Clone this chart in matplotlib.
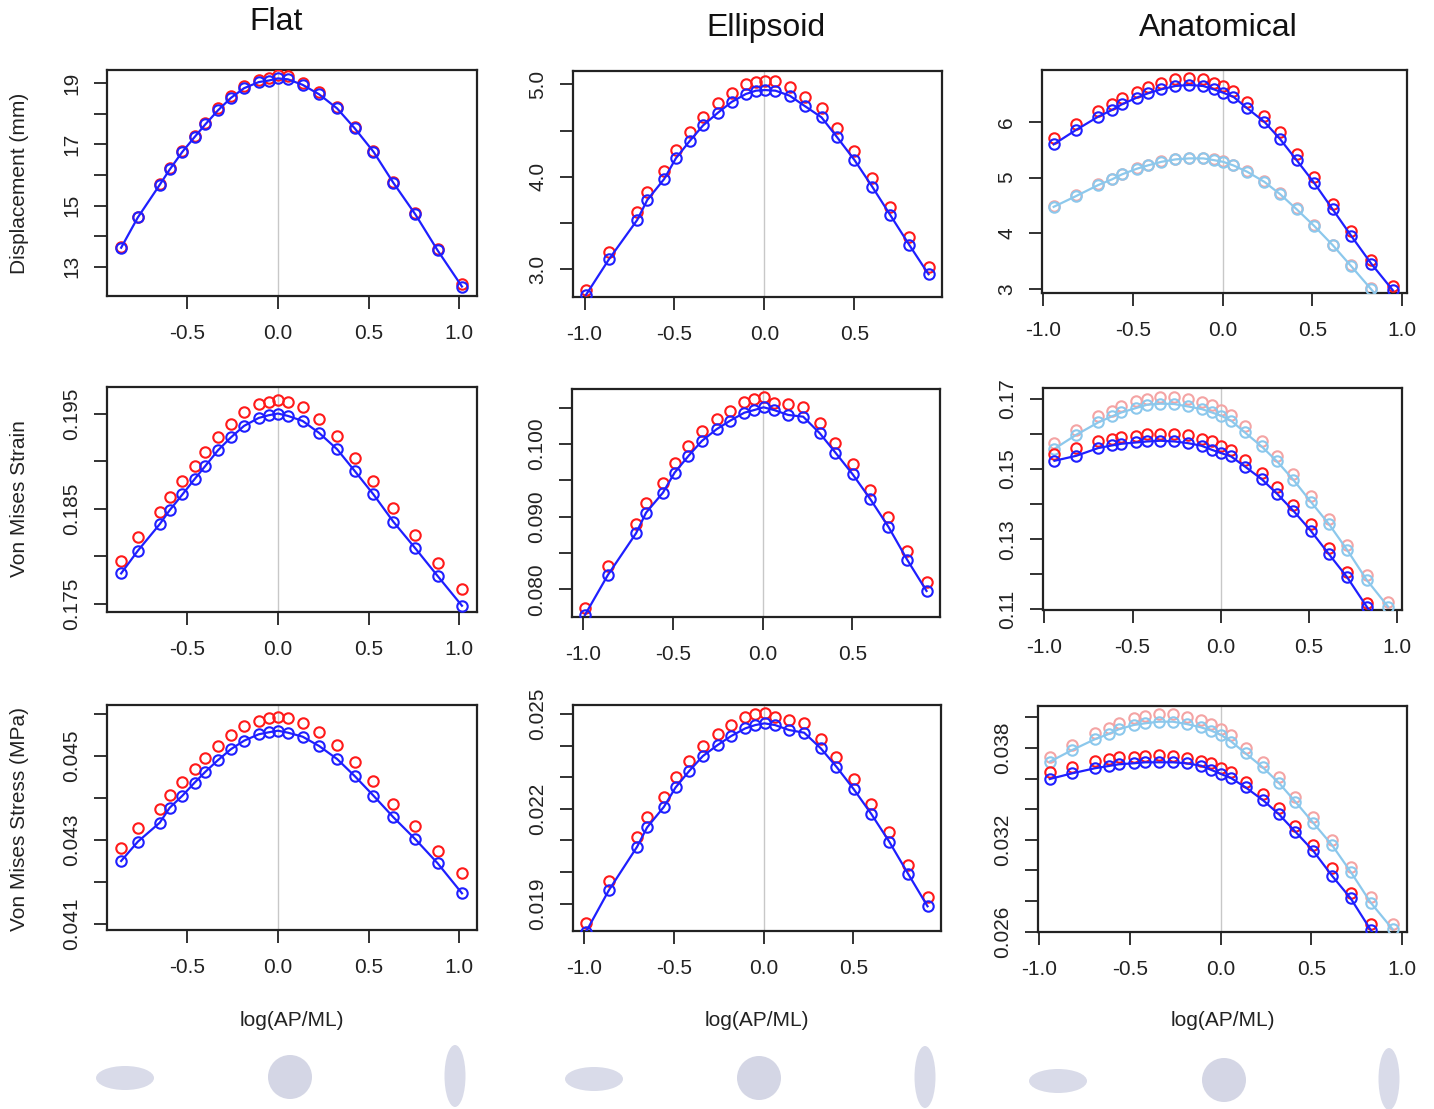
import numpy as np
import matplotlib
matplotlib.use("Agg")
import matplotlib.pyplot as plt
from matplotlib.patches import Ellipse

plt.rcParams['font.family'] = ['Liberation Sans', 'DejaVu Sans']
plt.rcParams['axes.unicode_minus'] = False

W, H = 1434, 1109

# --- data ---
x_flat = [-0.865, -0.773, -0.652, -0.597, -0.527, -0.460, -0.400, -0.330, -0.260, -0.187, -0.106, -0.051,
          0.000, 0.055, 0.136, 0.227, 0.326, 0.423, 0.527, 0.637, 0.758, 0.881, 1.015]
x_ellip = [-0.992, -0.864, -0.707, -0.651, -0.557, -0.492, -0.415, -0.340, -0.258, -0.182, -0.103, -0.047,
           0.004, 0.062, 0.141, 0.225, 0.318, 0.405, 0.501, 0.600, 0.700, 0.806, 0.913]
x_anat = [-0.943, -0.819, -0.695, -0.618, -0.563, -0.480, -0.417, -0.342, -0.264, -0.188, -0.109, -0.051,
          0.002, 0.059, 0.137, 0.232, 0.320, 0.412, 0.510, 0.614, 0.717, 0.828, 0.949]

# displacement (mm)
disp_flat_red = [13.65, 14.64, 15.71, 16.22, 16.80, 17.28, 17.71, 18.18, 18.59, 18.91, 19.11, 19.16,
                 19.27, 19.24, 19.02, 18.71, 18.24, 17.58, 16.80, 15.78, 14.75, 13.57, 12.43]
disp_flat_blue = [13.62, 14.61, 15.68, 16.18, 16.76, 17.24, 17.66, 18.12, 18.52, 18.84, 19.04, 19.09,
                  19.16, 19.13, 18.95, 18.64, 18.18, 17.53, 16.76, 15.74, 14.71, 13.53, 12.35]
disp_ellip_red = [2.776, 3.190, 3.616, 3.839, 4.063, 4.290, 4.481, 4.650, 4.795, 4.909, 5.003, 5.028,
                  5.039, 5.036, 4.974, 4.866, 4.740, 4.524, 4.282, 3.984, 3.677, 3.346, 3.028]
disp_ellip_blue = [2.722, 3.108, 3.533, 3.749, 3.976, 4.200, 4.387, 4.557, 4.693, 4.809, 4.895, 4.931,
                   4.938, 4.931, 4.877, 4.765, 4.643, 4.427, 4.182, 3.893, 3.587, 3.263, 2.946]
disp_anat_red = [5.702, 5.959, 6.197, 6.317, 6.430, 6.527, 6.627, 6.699, 6.759, 6.778, 6.759, 6.699,
                 6.640, 6.556, 6.358, 6.102, 5.810, 5.416, 5.004, 4.520, 4.047, 3.522, 3.061]
disp_anat_blue = [5.595, 5.851, 6.090, 6.210, 6.311, 6.430, 6.509, 6.581, 6.640, 6.658, 6.640, 6.581,
                  6.520, 6.448, 6.240, 6.000, 5.690, 5.314, 4.907, 4.430, 3.957, 3.462, 2.984]
disp_anat_lred = [4.49, 4.68, 4.88, 4.98, 5.07, 5.17, 5.23, 5.29, 5.34, 5.36, 5.36, 5.33,
                  5.30, 5.23, 5.12, 4.94, 4.72, 4.45, 4.15, 3.80, 3.43, 3.02, 2.57]
disp_anat_lblue = [4.477, 4.668, 4.866, 4.968, 5.057, 5.158, 5.219, 5.283, 5.326, 5.344, 5.344, 5.314,
                   5.283, 5.219, 5.104, 4.925, 4.704, 4.435, 4.136, 3.790, 3.414, 3.002, 2.55]

# von Mises strain
strain_flat_red = [0.17949, 0.18197, 0.18466, 0.18624, 0.18789, 0.18946, 0.19097, 0.19254, 0.19395, 0.19511,
                   0.19598, 0.19622, 0.19647, 0.19622, 0.19569, 0.19440, 0.19265, 0.19034, 0.18789, 0.18502,
                   0.18222, 0.17924, 0.17654]
strain_flat_blue = [0.17819, 0.18057, 0.18337, 0.18484, 0.18649, 0.18810, 0.18950, 0.19115, 0.19248, 0.19370,
                    0.19454, 0.19482, 0.19500, 0.19475, 0.19422, 0.19296, 0.19125, 0.18897, 0.18649, 0.18361,
                    0.18082, 0.17791, 0.17479]
strain_ellip_red = [0.07747, 0.08325, 0.08899, 0.09184, 0.09468, 0.09743, 0.09973, 0.10179, 0.10340, 0.10459,
                    0.10583, 0.10615, 0.10651, 0.10569, 0.10551, 0.10505, 0.10294, 0.10018, 0.09725, 0.09367,
                    0.08991, 0.08531, 0.08105]
strain_ellip_blue = [0.07646, 0.08197, 0.08771, 0.09055, 0.09330, 0.09605, 0.09835, 0.10042, 0.10203, 0.10321,
                     0.10431, 0.10468, 0.10505, 0.10468, 0.10400, 0.10376, 0.10147, 0.09881, 0.09583, 0.09239,
                     0.08862, 0.08403, 0.07977]
strain_anat_red = [0.15437, 0.15600, 0.15809, 0.15857, 0.15914, 0.15951, 0.16000, 0.16009, 0.16000, 0.15980,
                   0.15857, 0.15789, 0.15666, 0.15551, 0.15266, 0.14903, 0.14486, 0.13980, 0.13437, 0.12743,
                   0.12074, 0.11189, 0.1035]
strain_anat_blue = [0.15237, 0.15380, 0.15600, 0.15674, 0.15723, 0.15760, 0.15789, 0.15809, 0.15789, 0.15743,
                    0.15666, 0.15551, 0.15457, 0.15360, 0.15074, 0.14714, 0.14294, 0.13809, 0.13246, 0.12571,
                    0.11914, 0.11074, 0.1025]
strain_anat_lred = [0.15743, 0.16123, 0.16503, 0.16646, 0.16789, 0.16931, 0.17009, 0.17057, 0.17057, 0.17000,
                    0.16903, 0.16837, 0.16694, 0.16551, 0.16217, 0.15809, 0.15380, 0.14857, 0.14237, 0.13571,
                    0.12837, 0.11980, 0.11217]
strain_anat_lblue = [0.15580, 0.15980, 0.16331, 0.16503, 0.16617, 0.16743, 0.16837, 0.16866, 0.16857, 0.16789,
                     0.16714, 0.16617, 0.16523, 0.16380, 0.16046, 0.15646, 0.15217, 0.14694, 0.14074, 0.13429,
                     0.12694, 0.11837, 0.11074]

# von Mises stress (MPa)
stress_flat_red = [0.042817, 0.043293, 0.043738, 0.044071, 0.044388, 0.044690, 0.044945, 0.045245, 0.045500,
                   0.045714, 0.045840, 0.045897, 0.045936, 0.045912, 0.045793, 0.045564, 0.045262, 0.044850,
                   0.044405, 0.043857, 0.043333, 0.042745, 0.042221]
stress_flat_blue = [0.042500, 0.042960, 0.043412, 0.043769, 0.044055, 0.044364, 0.044626, 0.044905, 0.045160,
                    0.045364, 0.045517, 0.045564, 0.045602, 0.045555, 0.045460, 0.045238, 0.044929, 0.044524,
                    0.044055, 0.043540, 0.043017, 0.042445, 0.041731]
stress_ellip_red = [0.018385, 0.019716, 0.021092, 0.021726, 0.022379, 0.022994, 0.023520, 0.023986, 0.024357,
                    0.024651, 0.024916, 0.025000, 0.025022, 0.024895, 0.024810, 0.024724, 0.024208, 0.023647,
                    0.022940, 0.022138, 0.021270, 0.020236, 0.019209]
stress_ellip_blue = [0.018100, 0.019422, 0.020795, 0.021409, 0.022062, 0.022676, 0.023203, 0.023669, 0.024017,
                     0.024303, 0.024546, 0.024651, 0.024704, 0.024651, 0.024493, 0.024408, 0.023912, 0.023330,
                     0.022623, 0.021830, 0.020953, 0.019929, 0.018914]
stress_anat_red = [0.036448, 0.036774, 0.037166, 0.037257, 0.037388, 0.037427, 0.037493, 0.037538, 0.037493,
                   0.037362, 0.037166, 0.036996, 0.036670, 0.036448, 0.035795, 0.034972, 0.034058, 0.032902,
                   0.031661, 0.030140, 0.028507, 0.026483, 0.0245]
stress_anat_blue = [0.035971, 0.036343, 0.036670, 0.036820, 0.036931, 0.036996, 0.037062, 0.037062, 0.037062,
                    0.036996, 0.036840, 0.036559, 0.036297, 0.036017, 0.035429, 0.034600, 0.033686, 0.032530,
                    0.031289, 0.029657, 0.028181, 0.026111, 0.0240]
stress_anat_lred = [0.037388, 0.038191, 0.038955, 0.039282, 0.039608, 0.039935, 0.040085, 0.040215, 0.040215,
                    0.040000, 0.039824, 0.039562, 0.039216, 0.038844, 0.038015, 0.037101, 0.036121, 0.034776,
                    0.033470, 0.031988, 0.030244, 0.028246, 0.026503]
stress_anat_lblue = [0.037101, 0.037865, 0.038563, 0.038910, 0.039216, 0.039497, 0.039608, 0.039713, 0.039713,
                     0.039562, 0.039347, 0.039125, 0.038844, 0.038407, 0.037649, 0.036735, 0.035729, 0.034489,
                     0.033117, 0.031661, 0.029918, 0.027894, 0.026157]

col_titles = ['Flat', 'Ellipsoid', 'Anatomical']
row_labels = ['Displacement (mm)', 'Von Mises Strain', 'Von Mises Stress (MPa)']
x_ticks = [-1.0, -0.5, 0.0, 0.5, 1.0]
x_ticklabels = ['-1.0', '-0.5', '0.0', '0.5', '1.0']

# y ticks per panel: (ticks, labelled ticks, format)
y_ticks = [
    [(np.arange(13, 20, 1), [13, 15, 17, 19], '%d'),
     (np.arange(3.0, 5.01, 0.5), [3.0, 4.0, 5.0], '%.1f'),
     (np.arange(3, 7, 1), [3, 4, 5, 6], '%d')],
    [(np.arange(0.175, 0.1951, 0.005), [0.175, 0.185, 0.195], '%.3f'),
     (np.arange(0.080, 0.1051, 0.005), [0.080, 0.090, 0.100], '%.3f'),
     (np.arange(0.11, 0.1701, 0.01), [0.11, 0.13, 0.15, 0.17], '%.2f')],
    [(np.arange(0.041, 0.04601, 0.001), [0.041, 0.043, 0.045], '%.3f'),
     (np.arange(0.019, 0.02501, 0.001), [0.019, 0.022, 0.025], '%.3f'),
     (np.arange(0.026, 0.04001, 0.002), [0.026, 0.032, 0.038], '%.3f')],
]

x_lims = [(-0.943, 1.098), (-1.064, 0.988), (-1.008, 1.028)]
y_lims = [[(12.04, 19.435), (2.70, 5.144), (2.935, 6.926)],
          [(0.17413, 0.19779), (0.07619, 0.10757), (0.1098, 0.17314)],
          [(0.040857, 0.046214), (0.018132, 0.025285), (0.02598, 0.040738)]]

# axes boxes in pixels: left, top, right, bottom
boxes = [[(107, 70, 477, 296), (573, 71, 942, 297), (1042, 70, 1407, 293)],
         [(107, 387, 477, 612), (572, 389, 940, 617), (1043, 388, 1402, 610)],
         [(107, 705, 477, 930), (573, 705, 941, 931), (1038, 706, 1407, 932)]]

xs = [x_flat, x_ellip, x_anat]
dark = [[(disp_flat_red, disp_flat_blue), (disp_ellip_red, disp_ellip_blue), (disp_anat_red, disp_anat_blue)],
        [(strain_flat_red, strain_flat_blue), (strain_ellip_red, strain_ellip_blue), (strain_anat_red, strain_anat_blue)],
        [(stress_flat_red, stress_flat_blue), (stress_ellip_red, stress_ellip_blue), (stress_anat_red, stress_anat_blue)]]
light = [(disp_anat_lred, disp_anat_lblue), (strain_anat_lred, strain_anat_lblue), (stress_anat_lred, stress_anat_lblue)]

RED = '#ff1a1a'
BLUE = '#1f1fff'
LRED = '#f4a4a4'
LBLUE = '#8cc8ec'
INK = '#222222'
mk = dict(marker='o', markersize=7.5, markerfacecolor='none', markeredgewidth=1.5)

fig = plt.figure(figsize=(W / 100, H / 100), dpi=100)

for r in range(3):
    for c in range(3):
        l, t, rr, b = boxes[r][c]
        ax = fig.add_axes([l / W, 1 - b / H, (rr - l) / W, (b - t) / H])
        x = xs[c]
        ax.axvline(0, color='#c8c8c8', lw=1.0, zorder=1)
        if c == 2:
            lr, lb = light[r]
            ax.plot(x, lr, ls='none', color=LRED, zorder=2, **mk)
            ax.plot(x, lb, '-', color=LBLUE, lw=1.6, zorder=3, **mk)
        red, blue = dark[r][c]
        ax.plot(x, red, ls='none', color=RED, zorder=4, **mk)
        ax.plot(x, blue, '-', color=BLUE, lw=1.6, zorder=5, **mk)

        ax.set_xticks(x_ticks)
        ax.set_xticklabels(x_ticklabels)
        ticks, shown, fmt = y_ticks[r][c]
        labels = [(fmt % v) if np.any(np.isclose(v, shown)) else '' for v in ticks]
        ax.set_yticks(ticks)
        ax.set_yticklabels(labels, rotation=90, va='center')
        # limits after ticks, set_ticks would widen them
        ax.set_xlim(*x_lims[c])
        ax.set_ylim(*y_lims[r][c])

        ax.tick_params(axis='both', direction='out', length=9.5, width=1.3, color=INK,
                       labelsize=15, labelcolor=INK)
        ax.tick_params(axis='x', pad=11)
        ax.tick_params(axis='y', pad=9)
        for s in ax.spines.values():
            s.set_linewidth(1.6)
            s.set_color(INK)

# column titles, row labels and x labels
title_pos = [(276, 22), (766, 28), (1218, 28)]
for c in range(3):
    fig.text(title_pos[c][0] / W, 1 - title_pos[c][1] / H, col_titles[c], fontsize=23,
             ha='center', va='center', color='#111111')
    l, t, rr, b = boxes[2][c]
    fig.text((l + rr) / 2 / W, 1 - 1021 / H, 'log(AP/ML)', fontsize=15,
             ha='center', va='center', color=INK)

row_pos = [183, 499, 819]
for r in range(3):
    fig.text(20 / W, 1 - row_pos[r] / H, row_labels[r], fontsize=15, rotation=90,
             ha='center', va='center', color=INK)

# shape sketches under each column
ov = fig.add_axes([0, 0, 1, 1])
ov.set_xlim(0, W)
ov.set_ylim(H, 0)
ov.axis('off')
shape_x = [(125, 290, 455), (594, 759, 925), (1058, 1224, 1389)]
shape_y = [1078, 1079, 1081]
for c in range(3):
    wide, rnd, tall = shape_x[c]
    yc = shape_y[c]
    ov.add_patch(Ellipse((wide, yc), 58, 24, color='#d9dbe9', lw=0))
    ov.add_patch(Ellipse((rnd, yc - 1), 44, 44, color='#d4d6e5', lw=0))
    ov.add_patch(Ellipse((tall, yc - 2), 21, 62, color='#d9dbe9', lw=0))

fig.savefig('out.png', dpi=100)
